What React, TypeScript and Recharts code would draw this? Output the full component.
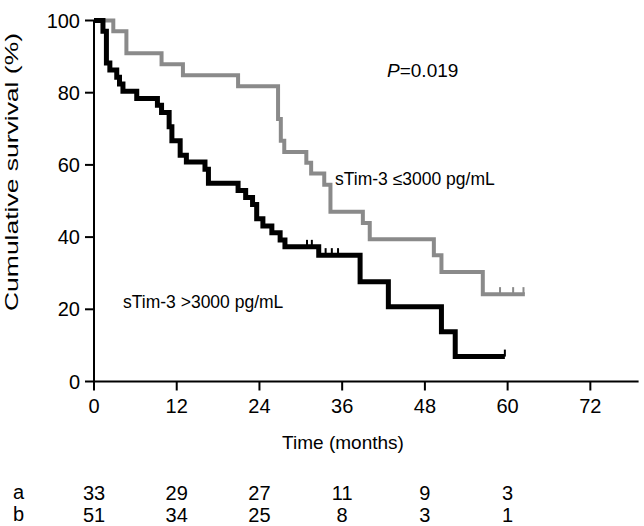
import React from 'react'
import { ComposedChart, Line, Scatter, XAxis, YAxis } from 'recharts'

const FONT = '"Liberation Sans", Arial, Helvetica, sans-serif'

// sTim-3 <= 3000 pg/mL (group a)
const lowMonths = [0, 2.8, 4.7, 9.8, 12.9, 20.9, 26.7, 27.1, 27.6, 30.8, 31.5, 33.4, 34.3, 39.0, 40.0, 49.3, 50.4, 56.4, 62.5]
const lowSurvival = [100, 97, 90.9, 87.9, 84.8, 81.8, 72.7, 66.7, 63.6, 60.6, 57.6, 54.5, 47, 43.9, 39.4, 35, 30.3, 24.2, 24.2]
const lowCensorMonths = [58.9, 60.8, 62.3]
const lowCensorSurvival = [24.2, 24.2, 24.2]

// sTim-3 > 3000 pg/mL (group b)
const highMonths = [0, 1.3, 1.8, 2.3, 3.3, 3.7, 4.2, 6.2, 9.2, 9.8, 10.9, 11.3, 12.5, 13.4, 16.1, 16.6, 20.9, 22.0, 23.0, 23.6, 24.5, 25.8, 27.0, 27.7, 32.6, 38.6, 42.7, 50.4, 52.4, 59.6]
const highSurvival = [100, 97, 88.2, 86.3, 84.3, 82.4, 80.4, 78.4, 76.5, 74.5, 70.6, 66.7, 62.7, 60.8, 58.8, 54.9, 52.9, 51, 49, 45.1, 43.1, 41.2, 39.2, 37.3, 35, 27.6, 20.7, 13.8, 6.9, 6.9]
const highCensorMonths = [30.9, 31.6, 33.6, 34.5, 35.4, 59.6]
const highCensorSurvival = [37.3, 37.3, 35, 35, 35, 6.9]

const timeTicks = [0, 12, 24, 36, 48, 60, 72]
const survivalTicks = [0, 20, 40, 60, 80, 100]
const riskMonths = [0, 12, 24, 36, 48, 60]
const atRiskA = [33, 29, 27, 11, 9, 3]
const atRiskB = [51, 34, 25, 8, 3, 1]

const GRAY = '#8a8a8a'

const lowData = lowMonths.map((t, i) => ({ t, s: lowSurvival[i] }))
const highData = highMonths.map((t, i) => ({ t, s: highSurvival[i] }))
const lowCensor = lowCensorMonths.map((t, i) => ({ t, s: lowCensorSurvival[i] }))
const highCensor = highCensorMonths.map((t, i) => ({ t, s: highCensorSurvival[i] }))

const censorShape = (color: string) => (props: any) => {
  const { cx, cy } = props
  return <line x1={cx} y1={cy} x2={cx} y2={cy - 7} stroke={color} strokeWidth={2} />
}

const riskFormatter = (counts: number[]) => (v: number) => {
  const i = riskMonths.indexOf(v)
  return i < 0 ? '' : String(counts[i])
}

const axisStroke = { stroke: '#000', strokeWidth: 2 }
const tickText = { fill: '#000', fontSize: 20, fontFamily: FONT }

export default function App() {
  return (
    <div style={{ position: 'absolute', left: 0, top: 0, width: 644, height: 526, overflow: 'hidden', background: '#fff' }}>
      <ComposedChart
        width={644}
        height={526}
        margin={{ top: 20.5, right: 5.4, bottom: 10.5, left: 0 }}
      >
        <XAxis
          dataKey="t"
          type="number"
          domain={[0, 79]}
          ticks={timeTicks}
          height={90}
          tickSize={9}
          tickMargin={8}
          axisLine={axisStroke}
          tickLine={axisStroke}
          tick={tickText}
        />
        <XAxis
          xAxisId="a"
          dataKey="t"
          type="number"
          domain={[0, 79]}
          allowDataOverflow
          ticks={riskMonths}
          tickFormatter={riskFormatter(atRiskA)}
          height={22}
          tickSize={0}
          tickMargin={14}
          axisLine={false}
          tickLine={false}
          tick={tickText}
        />
        <XAxis
          xAxisId="b"
          dataKey="t"
          type="number"
          domain={[0, 79]}
          allowDataOverflow
          ticks={riskMonths}
          tickFormatter={riskFormatter(atRiskB)}
          height={22}
          tickSize={0}
          tickMargin={14}
          axisLine={false}
          tickLine={false}
          tick={tickText}
        />
        <YAxis
          type="number"
          domain={[0, 100]}
          ticks={survivalTicks}
          width={94}
          tickSize={9}
          tickMargin={5}
          axisLine={axisStroke}
          tickLine={axisStroke}
          tick={tickText}
        />
        <Line data={lowData} dataKey="s" type="stepAfter" stroke={GRAY} strokeWidth={4} dot={false} isAnimationActive={false} />
        <Line data={highData} dataKey="s" type="stepAfter" stroke="#000" strokeWidth={5} dot={false} isAnimationActive={false} />
        <Scatter data={lowCensor} dataKey="s" shape={censorShape(GRAY)} isAnimationActive={false} />
        <Scatter data={highCensor} dataKey="s" shape={censorShape('#000')} isAnimationActive={false} />
      </ComposedChart>
      <svg
        width={644}
        height={526}
        style={{ position: 'absolute', left: 0, top: 0, pointerEvents: 'none' }}
        fontFamily={FONT}
        fill="#000"
      >
        <text
          x={18}
          y={172}
          fontSize={18}
          textAnchor="middle"
          textLength={278}
          lengthAdjust="spacingAndGlyphs"
          transform="rotate(-90 18 172)"
        >
          Cumulative survival (%)
        </text>
        <text x={387} y={76.5} fontSize={19}>
          <tspan fontStyle="italic">P</tspan>=0.019
        </text>
        <text x={335} y={185} fontSize={17.5}>sTim-3 ≤3000 pg/mL</text>
        <text x={123} y={308} fontSize={17.5}>sTim-3 &gt;3000 pg/mL</text>
        <text x={343} y={449} fontSize={19} textAnchor="middle">Time (months)</text>
        <text x={13} y={499} fontSize={20}>a</text>
        <text x={13} y={521} fontSize={20}>b</text>
      </svg>
    </div>
  )
}
